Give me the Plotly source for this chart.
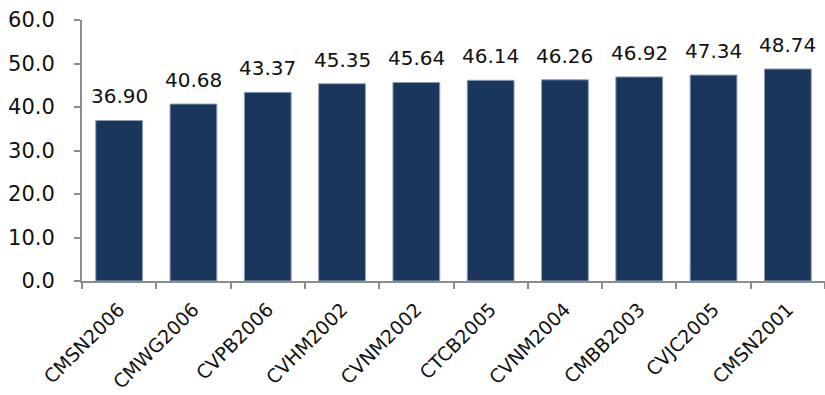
import plotly.graph_objects as go

# Fund codes and their values
codes = ["CMSN2006", "CMWG2006", "CVPB2006", "CVHM2002", "CVNM2002",
         "CTCB2005", "CVNM2004", "CMBB2003", "CVJC2005", "CMSN2001"]
values = [36.90, 40.68, 43.37, 45.35, 45.64, 46.14, 46.26, 46.92, 47.34, 48.74]
y_ticks = [0, 10, 20, 30, 40, 50, 60]

FONT = "DejaVu Sans, Verdana, sans-serif"
AXIS_COLOR = "#8c8c8c"

fig = go.Figure(
    go.Bar(
        x=codes,
        y=values,
        marker=dict(color="#1b365d", line=dict(color="#8fa0b8", width=1)),
        width=0.63,
    )
)

# value labels above each bar
for c, v in zip(codes, values):
    fig.add_annotation(
        x=c, y=v, text=f"{v:.2f}", showarrow=False,
        yanchor="bottom", yshift=10,
        font=dict(family=FONT, size=20, color="#111111"),
    )

fig.update_layout(
    width=825, height=395,
    margin=dict(l=82, r=0, t=20, b=114),
    paper_bgcolor="white", plot_bgcolor="white",
    showlegend=False,
    font=dict(family=FONT, color="#111111"),
)
fig.update_xaxes(
    type="category",
    automargin=False,
    tickangle=-45,
    tickfont=dict(family=FONT, size=19, color="#111111"),
    showline=True, linecolor=AXIS_COLOR, linewidth=2,
    ticks="outside", ticklen=6, tickcolor=AXIS_COLOR, tickwidth=2,
    tickson="boundaries",
    ticklabelstandoff=8,
    showgrid=False,
    range=[-0.5, 9.5],
)
fig.update_yaxes(
    automargin=False,
    range=[0, 60],
    tickvals=y_ticks,
    ticktext=[f"{t:.1f}" for t in y_ticks],
    tickfont=dict(family=FONT, size=21, color="#111111"),
    showline=True, linecolor=AXIS_COLOR, linewidth=2,
    ticks="outside", ticklen=6, tickcolor=AXIS_COLOR, tickwidth=2,
    ticklabelstandoff=15,
    showgrid=False, zeroline=False,
)

fig.write_html("out.html")
